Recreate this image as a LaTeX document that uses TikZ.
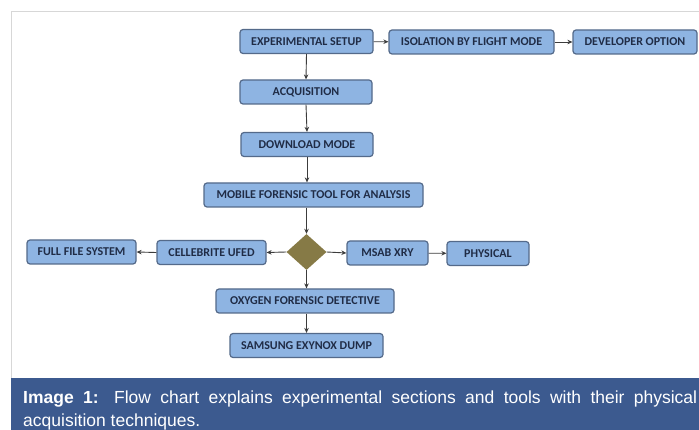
\documentclass[tikz,border=0pt]{standalone}
\usepackage{fontspec}
\setmainfont{Liberation Sans}
\newfontfamily\boxfont{Carlito}
\usetikzlibrary{arrows.meta,shapes.geometric}
\definecolor{boxfill}{RGB}{142,180,226}
\definecolor{boxline}{RGB}{84,106,138}
\definecolor{boxtext}{RGB}{32,44,70}
\definecolor{olive}{RGB}{134,122,70}
\definecolor{band}{RGB}{60,90,143}
\definecolor{frame}{RGB}{215,215,215}
\definecolor{arrowc}{RGB}{60,60,60}
\tikzset{
  flowbox/.style={draw=boxline, line width=1.2pt, fill=boxfill, rounded corners=3pt,
    minimum height=24pt, inner sep=0pt, text=boxtext,
    font=\boxfont\bfseries\fontsize{12}{14}\selectfont},
  link/.style={draw=arrowc, line width=0.9pt, -{Stealth[length=5pt,width=4.5pt]}},
}
\begin{document}
\begin{tikzpicture}[x=1pt,y=-1pt]
\useasboundingbox (0,0) rectangle (699,430);
\fill[white] (0,0) rectangle (699,430);
\draw[frame, line width=1pt] (11,378) -- (11,12) -- (710,12);
\fill[band] (11,378) rectangle (699,430);
% nodes
\node[flowbox, minimum width=133pt] (exp) at (306.5,41.5) {EXPERIMENTAL SETUP};
\node[flowbox, minimum width=165pt] (iso) at (471.5,42) {ISOLATION BY FLIGHT MODE};
\node[flowbox, minimum width=124pt] (dev) at (635,42) {DEVELOPER OPTION};
\node[flowbox, minimum width=132pt] (acq) at (306,92) {ACQUISITION};
\node[flowbox, minimum width=132pt] (dl) at (307,144.5) {DOWNLOAD MODE};
\node[flowbox, minimum width=219pt] (mft) at (313.5,195) {MOBILE FORENSIC TOOL FOR ANALYSIS};
\node[diamond, fill=olive, minimum width=40pt, minimum height=36pt, inner sep=0pt, aspect=1.1] (dia) at (306.5,252) {};
\node[flowbox, minimum width=109pt] (cel) at (211.5,252.5) {CELLEBRITE UFED};
\node[flowbox, minimum width=109pt] (ffs) at (81.5,252) {FULL FILE SYSTEM};
\node[flowbox, minimum width=81pt] (msab) at (387.5,253) {MSAB XRY};
\node[flowbox, minimum width=82pt] (phy) at (488,253.5) {PHYSICAL};
\node[flowbox, minimum width=178pt] (oxy) at (305,301) {OXYGEN FORENSIC DETECTIVE};
\node[flowbox, minimum width=153pt] (sam) at (306.5,345.5) {SAMSUNG EXYNOX DUMP};
% connectors
\draw[link] (exp) -- (iso);
\draw[link] (iso) -- (dev);
\draw[link] (exp.south) -- (acq.north);
\draw[link] (acq.south) -- (dl.north);
\draw[link] (dl.south) -- (dl.south |- mft.north);
\draw[link] (dia.north |- mft.south) -- (dia.north);
\draw[link] (dia.west) -- (cel.east);
\draw[link] (cel.west) -- (ffs.east);
\draw[link] (dia.east) -- (msab.west);
\draw[link] (msab) -- (phy);
\draw[link] (dia.south) -- (dia.south |- oxy.north);
\draw[link] (oxy.south -| sam.north) -- (sam.north);
% caption
\node[anchor=north west, inner sep=0pt, text width=674pt, align=justify, text=white,
  font=\fontsize{17.5}{23}\selectfont] (cap) at (23,391)
  {\tolerance=10000\textbf{Image 1:} Flow chart explains experimental sections and tools with their physical \mbox{acquisition} \mbox{techniques.}};
\end{tikzpicture}
\end{document}
